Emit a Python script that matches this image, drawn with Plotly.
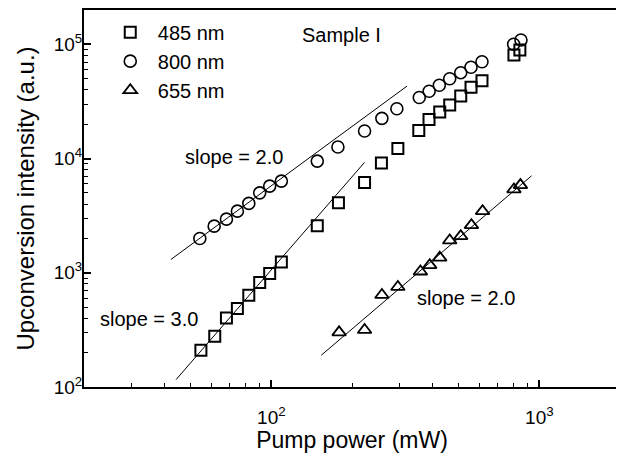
import plotly.graph_objects as go

# ---- data ----
sq_x = [54.6, 61.5, 68.0, 74.7, 82.4, 90.5, 98.6, 109, 148.4, 178, 222.8, 257.5, 296.6,
        355, 387.6, 425, 463, 509, 556, 611, 804, 846]
sq_y = [210, 278, 402, 486, 636, 822, 986, 1246, 2578, 4115, 6160, 9170, 12280,
        17600, 21970, 25550, 29420, 35300, 42070, 48100, 80700, 89300]

ci_x = [54.1, 61.2, 68.0, 74.7, 82.4, 90.5, 98.6, 109, 148.4, 177.2, 222.8, 258.5, 294,
        356.5, 388, 423.4, 463, 509, 556, 611, 802, 854]
ci_y = [1998, 2560, 2950, 3467, 4050, 5013, 5740, 6350, 9510, 12620, 17420, 22500, 27320,
        34260, 38900, 43840, 50000, 56500, 63100, 70500, 100200, 109300]

tr_x = [179, 222.8, 258.6, 296.6, 360, 390, 425, 463, 509, 558, 614, 804, 850]
tr_y = [301, 316, 640, 752, 1026, 1166, 1357, 1919, 2093, 2613, 3467, 5370, 5860]

# fitted guide lines (end points)
fit_ci_x = [42.2, 321]
fit_ci_y = [1308, 43150]
fit_sq_x = [44.1, 222.8]
fit_sq_y = [116, 9270]
fit_tr_x = [153.6, 935]
fit_tr_y = [189.7, 7060]

series_names = ["485 nm", "800 nm", "655 nm"]
x_tick_vals = [100, 1000]
x_tick_text = ["10<sup>2</sup>", "10<sup>3</sup>"]
y_tick_vals = [100, 1000, 10000, 100000]
y_tick_text = ["10<sup>2</sup>", "10<sup>3</sup>", "10<sup>4</sup>", "10<sup>5</sup>"]

FONT = "Arial, Liberation Sans, Helvetica, sans-serif"

fig = go.Figure()

for fx, fy in [(fit_ci_x, fit_ci_y), (fit_sq_x, fit_sq_y), (fit_tr_x, fit_tr_y)]:
    fig.add_trace(go.Scatter(x=fx, y=fy, mode="lines", line=dict(color="black", width=1),
                             showlegend=False, hoverinfo="skip"))

fig.add_trace(go.Scatter(x=sq_x, y=sq_y, mode="markers", name=series_names[0], legendgroup="a",
                         marker=dict(symbol="square-open", size=11, color="black",
                                     line=dict(width=2, color="black"))))
fig.add_trace(go.Scatter(x=ci_x, y=ci_y, mode="markers", name=series_names[1], legendgroup="b",
                         marker=dict(symbol="circle-open", size=12, color="black",
                                     line=dict(width=1.6, color="black"))))
fig.add_trace(go.Scatter(x=tr_x, y=tr_y, mode="markers", name=series_names[2], legendgroup="c",
                         marker=dict(symbol="triangle-up-open", size=12, color="black",
                                     line=dict(width=1.8, color="black"))))

minor_x = [30, 40, 50, 60, 70, 80, 90, 200, 300, 400, 500, 600, 700, 800, 900]
minor_y = [m * d for d in (100, 1000, 10000, 100000) for m in range(2, 10)]

fig.update_xaxes(type="log", range=[1.301, 3.301], tickmode="array", tickvals=x_tick_vals,
                 ticktext=x_tick_text, ticks="inside", ticklen=7, tickwidth=1.5,
                 tickcolor="black", showline=True, linecolor="black", linewidth=2,
                 mirror=True, showgrid=False, zeroline=False, automargin=False,
                 tickfont=dict(size=19, color="black", family=FONT),
                 ticklabelstandoff=12,
                 minor=dict(tickmode="array", tickvals=minor_x, ticks="inside", ticklen=4,
                            tickwidth=1.2, tickcolor="black", showgrid=False),
                 title=dict(text="Pump power (mW)", font=dict(size=23, color="black", family=FONT),
                            standoff=5))
fig.update_yaxes(type="log", range=[2, 5.301], tickmode="array", tickvals=y_tick_vals,
                 ticktext=y_tick_text, ticks="inside", ticklen=7, tickwidth=1.5,
                 tickcolor="black", showline=True, linecolor="black", linewidth=2,
                 mirror=True, showgrid=False, zeroline=False, automargin=False,
                 tickfont=dict(size=19, color="black", family=FONT),
                 ticklabelstandoff=-4,
                 minor=dict(tickmode="array", tickvals=minor_y, ticks="inside", ticklen=4,
                            tickwidth=1.2, tickcolor="black", showgrid=False),
                 title=dict(text="Upconversion intensity (a.u.)",
                            font=dict(size=24, color="black", family=FONT), standoff=12))

annots = [
    ("slope = 2.0", 1.860, 4.013),
    ("slope = 3.0", 1.544, 2.593),
    ("slope = 2.0", 2.725, 2.780),
    ("Sample I", 2.260, 5.082),
]
for t, ax_, ay_ in annots:
    fig.add_annotation(x=ax_, y=ay_, xref="x", yref="y", text=t, showarrow=False,
                       font=dict(size=20, color="black", family=FONT))

# page body has an 8px margin: the figure is sized/offset to fit the 624x453 window
fig.update_layout(
    width=616, height=445,
    margin=dict(l=76, r=4, t=2, b=66),
    paper_bgcolor="white", plot_bgcolor="white",
    font=dict(family=FONT, color="black"),
    legend=dict(x=0.035, y=0.993, xanchor="left", yanchor="top", bgcolor="rgba(0,0,0,0)",
                font=dict(size=20, color="black", family=FONT), tracegroupgap=0,
                itemwidth=45),
)

fig.write_html("out.html")
